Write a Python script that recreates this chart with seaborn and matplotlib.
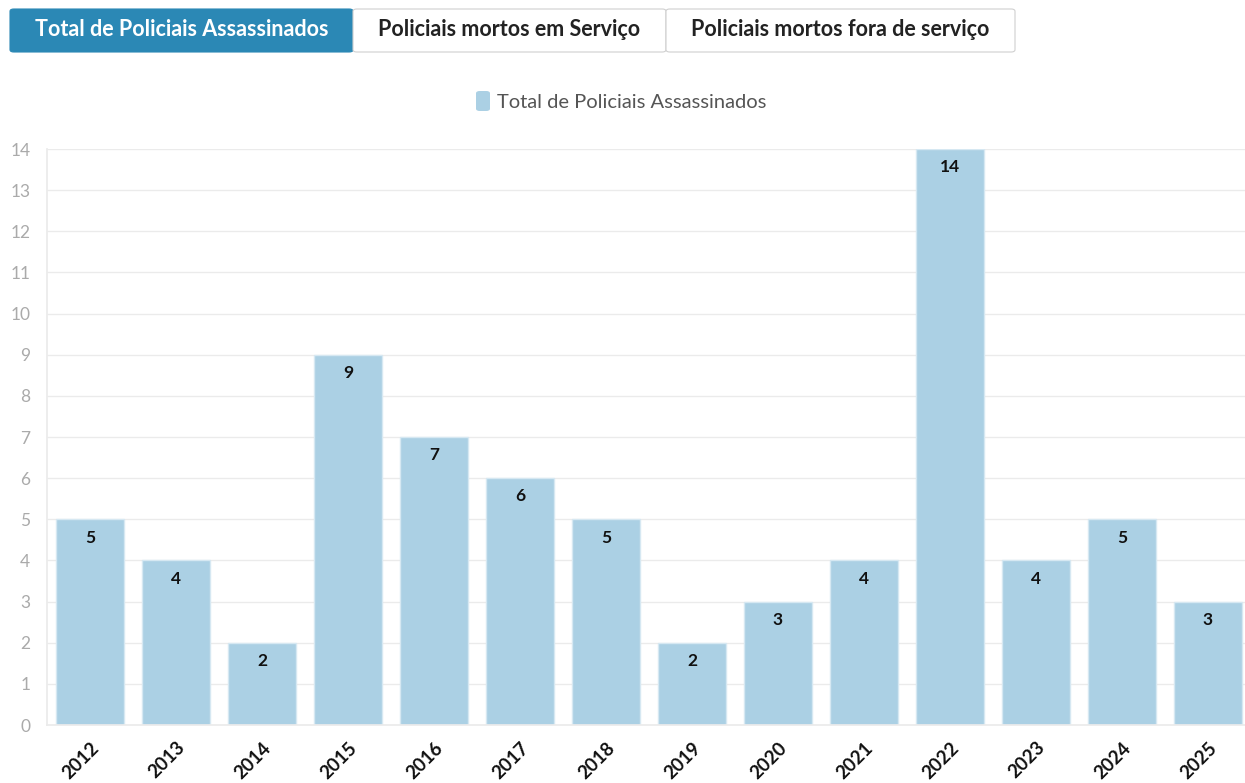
import matplotlib
matplotlib.use("Agg")
import matplotlib.pyplot as plt
import matplotlib.patches as mpatches
import pandas as pd
import seaborn as sns

# data
years = ["2012", "2013", "2014", "2015", "2016", "2017", "2018",
         "2019", "2020", "2021", "2022", "2023", "2024", "2025"]
totals = [5, 4, 2, 9, 7, 6, 5, 2, 3, 4, 14, 4, 5, 3]
series_name = "Total de Policiais Assassinados"
tabs = ["Total de Policiais Assassinados", "Policiais mortos em Serviço",
        "Policiais mortos fora de serviço"]

BAR_COLOR = "#abd0e4"
TAB_BLUE = "#2b88b5"

sns.set_theme(style="white")
plt.rcParams["font.family"] = ["Lato", "DejaVu Sans"]

df = pd.DataFrame({"year": years, "total": totals})

fig = plt.figure(figsize=(12.45, 7.83), dpi=100)
W, H = 1245, 783
ax = fig.add_axes([47 / W, 58 / H, 1204 / W, (725 - 149) / H])

sns.barplot(data=df, x="year", y="total", color=BAR_COLOR, width=0.79,
            edgecolor="#d6e8f2", linewidth=1, saturation=1, ax=ax)

# value labels inside the top of each bar
for i, v in enumerate(df["total"]):
    ax.text(i, v - 0.25, str(v), ha="center", va="top",
            fontsize=12.5, fontweight="bold", color="#111111")

ax.set_xlim(-0.5, 13.5)
ax.set_ylim(0, 14)
ax.set_yticks(range(0, 15))
ax.grid(axis="y", color="#ebebeb", linewidth=1)
ax.set_axisbelow(True)
for s in ["top", "right"]:
    ax.spines[s].set_visible(False)
ax.spines["left"].set_color("#ebebeb")
ax.spines["bottom"].set_color("#ebebeb")
ax.set_xlabel("")
ax.set_ylabel("")
ax.tick_params(axis="y", colors="#aaaaaa", labelsize=12.5, length=0, pad=12)
ax.tick_params(axis="x", colors="#dddddd", length=6, width=1, labelsize=13.5,
               labelcolor="#111111", pad=4)
plt.setp(ax.get_xticklabels(), rotation=45, ha="right", rotation_mode="anchor",
         fontweight="bold")

# legend at the top
fig.patches.append(mpatches.FancyBboxPatch(
    (476 / W, 1 - 111 / H), 14 / W, 20 / H,
    boxstyle="round,pad=0,rounding_size=0.003", transform=fig.transFigure,
    facecolor=BAR_COLOR, edgecolor="none"))
fig.text(497 / W, 1 - 102 / H, series_name, ha="left", va="center",
         fontsize=14.5, color="#555555")

# tab buttons
tab_edges = [10, 353, 666, 1015]
for i, label in enumerate(tabs):
    x0, x1 = tab_edges[i], tab_edges[i + 1]
    active = i == 0
    fig.patches.append(mpatches.FancyBboxPatch(
        (x0 / W, 1 - 52 / H), (x1 - x0) / W, 43 / H,
        boxstyle="round,pad=0,rounding_size=0.003", transform=fig.transFigure,
        facecolor=TAB_BLUE if active else "white",
        edgecolor=TAB_BLUE if active else "#d0d0d0", linewidth=0.8))
    fig.text((x0 + x1) / 2 / W, 1 - 30 / H, label, ha="center", va="center",
             fontsize=15.5, fontweight="bold",
             color="white" if active else "#222222")

fig.savefig("out.png", dpi=100)
